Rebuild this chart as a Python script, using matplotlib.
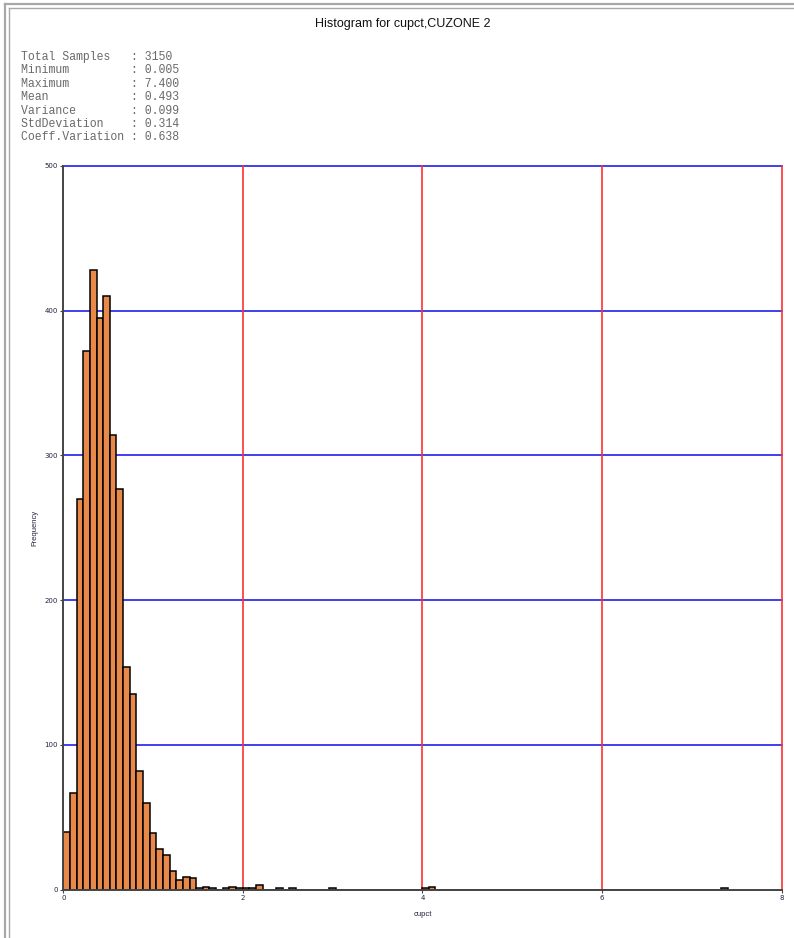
import numpy as np
import matplotlib
matplotlib.use("Agg")
import matplotlib.pyplot as plt
from matplotlib.lines import Line2D

# histogram counts, 100 bins between 0 and 7.4
bin_width = 0.074
counts = [0] * 100
main_counts = [40, 67, 270, 372, 428, 395, 410, 314, 277, 154,
               135, 82, 60, 39, 28, 24, 13, 7, 9, 8]
counts[:len(main_counts)] = main_counts
tail_counts = {20: 1, 21: 2, 22: 1, 24: 1, 25: 2, 26: 1, 27: 1, 28: 1,
               29: 3, 32: 1, 34: 1, 40: 1, 54: 1, 55: 2, 99: 1}
for k in tail_counts:
    counts[k] = tail_counts[k]

stat_names = ["Total Samples", "Minimum", "Maximum", "Mean",
              "Variance", "StdDeviation", "Coeff.Variation"]
stat_values = ["3150", "0.005", "7.400", "0.493", "0.099", "0.314", "0.638"]

xticks = [0, 2, 4, 6, 8]
yticks = [0, 100, 200, 300, 400, 500]

W, H = 794, 938
fig = plt.figure(figsize=(W / 100, H / 100), dpi=100)

# window frame
for y in [4.5, 8.5]:
    fig.add_artist(Line2D([y / W, 1], [1 - y / H, 1 - y / H], color="#a8a8a8",
                          lw=1.6 if y < 6 else 1.0, transform=fig.transFigure))
for x in [4.5, 8.5]:
    fig.add_artist(Line2D([x / W, x / W], [0, 1 - x / H], color="#a8a8a8",
                          lw=1.6 if x < 6 else 1.0, transform=fig.transFigure))

fig.text(403 / W, 1 - 24 / H, "Histogram for cupct,CUZONE 2", ha="center", va="center",
         fontsize=9, family="Liberation Sans", color="#111111")

lines = ["%-16s: %s" % (n, v) for n, v in zip(stat_names, stat_values)]
for i, s in enumerate(lines):
    fig.text(21 / W, 1 - (57 + i * 13.4) / H, s, ha="left", va="center",
             fontsize=8.3, family="Liberation Mono", color="#6a6a6a")

ax = fig.add_axes([63.3 / W, 1 - 889.7 / H, (781.5 - 63.3) / W, (889.7 - 166) / H])

edges = np.arange(len(counts)) * bin_width
ax.bar(edges, counts, width=bin_width, align="edge", color="#e8894a",
       edgecolor="black", linewidth=1.1, zorder=3)

ax.set_xlim(0, 8)
ax.set_ylim(0, 500)
for v in yticks[1:]:
    ax.axhline(v, color="#2020ee", lw=1.2, zorder=1, clip_on=False)
for v in xticks[1:]:
    ax.axvline(v, color="#ff3030", lw=1.2, zorder=1, clip_on=False)

ax.spines["top"].set_visible(False)
ax.spines["right"].set_visible(False)
for sp in ["left", "bottom"]:
    ax.spines[sp].set_color("#444444")
    ax.spines[sp].set_linewidth(1.4)
    ax.spines[sp].set_zorder(4)

ax.set_xticks(xticks)
ax.set_yticks(yticks)
ax.tick_params(labelsize=5, length=2.5, width=0.8, color="#444444", pad=1.5,
               labelcolor="#222244")
ax.set_xlabel("cupct", fontsize=5.5, family="Liberation Sans", color="#222244", labelpad=7)
ax.set_ylabel("Frequency", fontsize=5.5, family="Liberation Sans", color="#222244", labelpad=4)

fig.savefig("out.png", dpi=100)
